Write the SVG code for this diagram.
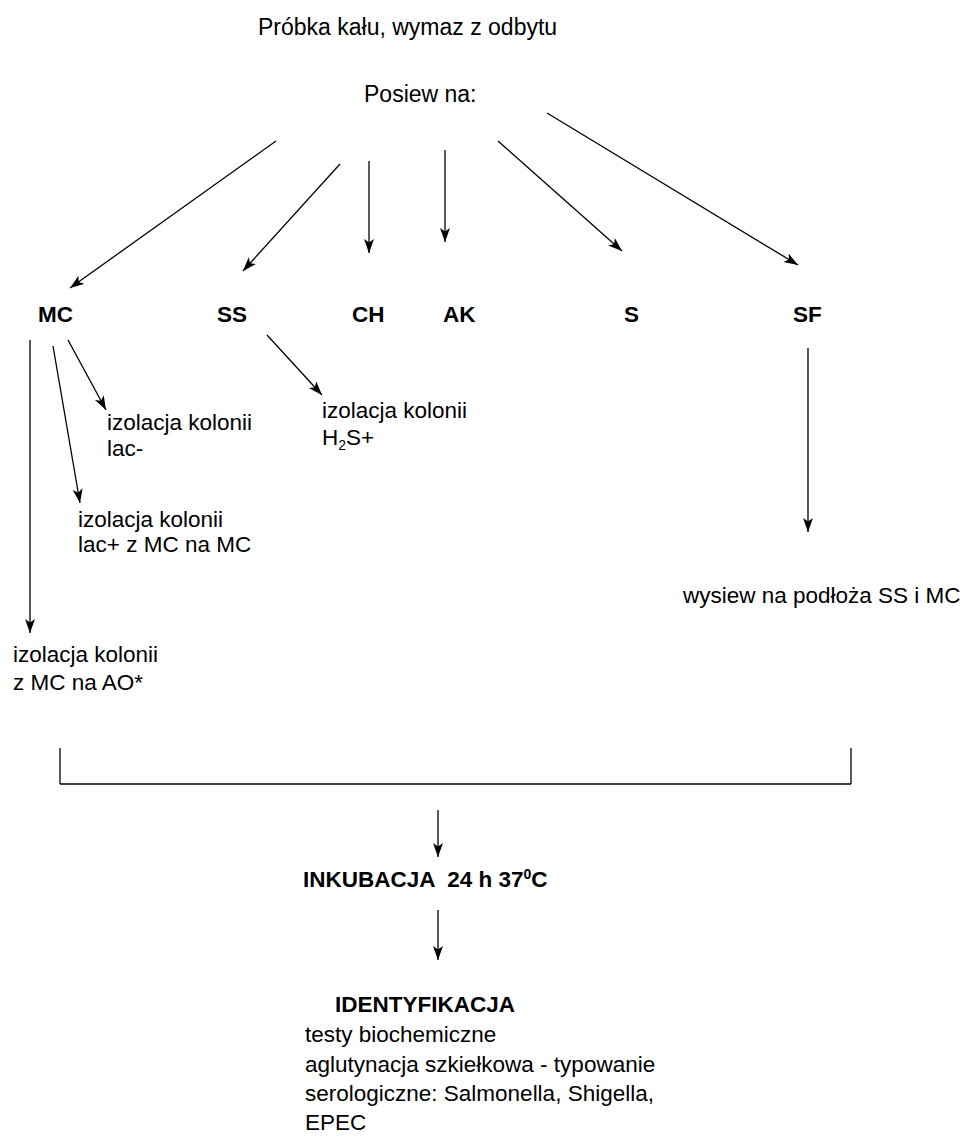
<svg xmlns="http://www.w3.org/2000/svg" width="969" height="1142" viewBox="0 0 969 1142">
<defs>
<marker id="ah" markerUnits="userSpaceOnUse" markerWidth="16" markerHeight="12" refX="14" refY="5" orient="auto">
<path d="M0,0 L14,5 L0,10 L3.5,5 z" fill="#000"/>
</marker>
<style>
text{font-family:"Liberation Sans",Arial,sans-serif;fill:#000}
.r{font-size:22.5px}
.b{font-size:22.5px;font-weight:bold}
.h{font-size:23px}
.c line{stroke:#000;stroke-width:1.3;fill:none}
.c .a{marker-end:url(#ah)}
</style>
</defs>
<rect width="969" height="1142" fill="#fff"/>
<g id="title"><text class="h" x="258" y="35">Próbka kału, wymaz z odbytu</text></g>
<g id="posiew"><text class="h" x="364" y="102">Posiew na:</text></g>
<g id="MC"><text class="b" x="38" y="322">MC</text></g>
<g id="SS"><text class="b" x="217" y="322">SS</text></g>
<g id="CH"><text class="b" x="352" y="322">CH</text></g>
<g id="AK"><text class="b" x="443" y="322">AK</text></g>
<g id="S"><text class="b" x="624" y="322">S</text></g>
<g id="SF"><text class="b" x="793" y="322">SF</text></g>
<g id="lacminus"><text class="r" x="107" y="430">izolacja kolonii</text><text class="r" x="107" y="456">lac-</text></g>
<g id="lacplus"><text class="r" x="78" y="527">izolacja kolonii</text><text class="r" x="78" y="552">lac+ z MC na MC</text></g>
<g id="h2s"><text class="r" x="322" y="418">izolacja kolonii</text><text class="r" x="322" y="445">H<tspan font-size="14" dy="5">2</tspan><tspan dy="-5">S+</tspan></text></g>
<g id="ao"><text class="r" x="13" y="662">izolacja kolonii</text><text class="r" x="13" y="690">z MC na AO*</text></g>
<g id="wysiew"><text class="r" x="683" y="603">wysiew na podłoża SS i MC</text></g>
<g id="inkubacja"><text class="b" x="303" y="887" style="white-space:pre">INKUBACJA  24 h 37<tspan font-size="14" dy="-8">0</tspan><tspan dy="8">C</tspan></text></g>
<g id="identyfikacja">
<text class="b" x="335" y="1012">IDENTYFIKACJA</text>
<text class="r" x="305" y="1042">testy biochemiczne</text>
<text class="r" x="305" y="1071.5">aglutynacja szkiełkowa - typowanie</text>
<text class="r" x="305" y="1101">serologiczne: Salmonella, Shigella,</text>
<text class="r" x="305" y="1130">EPEC</text>
</g>
<g id="connectors" class="c">
<line class="a" x1="276" y1="141" x2="70" y2="288"/>
<line class="a" x1="340" y1="164" x2="243" y2="271"/>
<line class="a" x1="369" y1="161" x2="369" y2="253"/>
<line class="a" x1="445" y1="150" x2="445" y2="242"/>
<line class="a" x1="498" y1="141" x2="622" y2="251"/>
<line class="a" x1="547" y1="113" x2="798" y2="265"/>
<line class="a" x1="30" y1="340" x2="30" y2="633"/>
<line class="a" x1="53" y1="346" x2="80" y2="503"/>
<line class="a" x1="68" y1="340" x2="106" y2="410"/>
<line class="a" x1="267" y1="335" x2="322" y2="395"/>
<line class="a" x1="808" y1="348" x2="808" y2="532"/>
<line x1="60" y1="748" x2="60" y2="784"/>
<line x1="851" y1="748" x2="851" y2="784"/>
<line x1="60" y1="784" x2="851" y2="784"/>
<line class="a" x1="438" y1="810" x2="438" y2="857"/>
<line class="a" x1="438" y1="910" x2="438" y2="960"/>
</g>
</svg>
